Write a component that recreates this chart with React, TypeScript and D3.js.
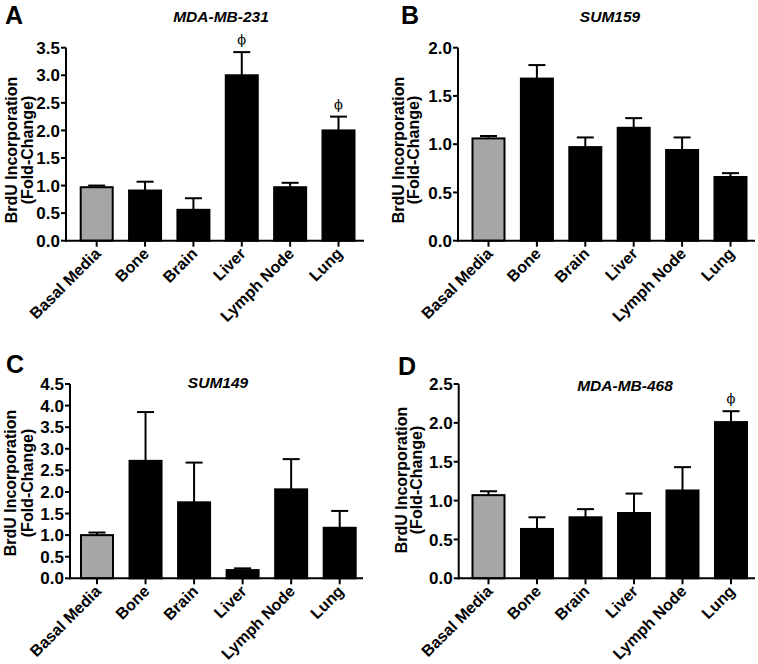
import React from "react";
import * as d3 from "d3";

const categories = ["Basal Media", "Bone", "Brain", "Liver", "Lymph Node", "Lung"];

const valuesA = [0.97, 0.91, 0.56, 3.0, 0.97, 2.0];
const errorsA = [0.03, 0.16, 0.21, 0.42, 0.08, 0.25];
const sigA = [false, false, false, true, false, true];
const ticksA = [0, 0.5, 1.0, 1.5, 2.0, 2.5, 3.0, 3.5];

const valuesB = [1.06, 1.68, 0.97, 1.17, 0.94, 0.66];
const errorsB = [0.025, 0.14, 0.1, 0.1, 0.13, 0.04];
const sigB = [false, false, false, false, false, false];
const ticksB = [0, 0.5, 1.0, 1.5, 2.0];

const valuesC = [1.0, 2.72, 1.76, 0.19, 2.06, 1.17];
const errorsC = [0.06, 1.13, 0.92, 0.04, 0.7, 0.39];
const sigC = [false, false, false, false, false, false];
const ticksC = [0, 0.5, 1.0, 1.5, 2.0, 2.5, 3.0, 3.5, 4.0, 4.5];

const valuesD = [1.07, 0.635, 0.785, 0.84, 1.13, 2.01];
const errorsD = [0.05, 0.15, 0.105, 0.25, 0.3, 0.14];
const sigD = [false, false, false, false, false, true];
const ticksD = [0, 0.5, 1.0, 1.5, 2.0, 2.5];

const titles = ["MDA-MB-231", "SUM159", "SUM149", "MDA-MB-468"];
const letters = ["A", "B", "C", "D"];

const FONT = "'Liberation Sans', Arial, Helvetica, sans-serif";

type PanelLayout = {
  axisX: number; y0: number; yTop: number; firstC: number; lastC: number; xRight: number;
  titleX: number; titleY: number; letterX: number; letterY: number;
  lab1X: number; lab2X: number; labY: number;
};

const layouts: PanelLayout[] = [
  { axisX: 66, y0: 240.7, yTop: 47.7, firstC: 96.7, lastC: 338.5, xRight: 364, titleX: 221, titleY: 22, letterX: 5, letterY: 24, lab1X: 11, lab2X: 27, labY: 150 },
  { axisX: 458, y0: 240.7, yTop: 47.7, firstC: 488.5, lastC: 730.5, xRight: 755, titleX: 610, titleY: 22, letterX: 401, letterY: 24, lab1X: 398, lab2X: 413, labY: 150 },
  { axisX: 70, y0: 578.3, yTop: 384, firstC: 97, lastC: 339.7, xRight: 363, titleX: 218, titleY: 388, letterX: 6, letterY: 373, lab1X: 10, lab2X: 27, labY: 483 },
  { axisX: 458.7, y0: 578.3, yTop: 384, firstC: 488.5, lastC: 731, xRight: 755, titleX: 625, titleY: 391, letterX: 398, letterY: 375, lab1X: 401, lab2X: 416, labY: 480 },
];

const panelData = [
  { values: valuesA, errors: errorsA, sig: sigA, ticks: ticksA },
  { values: valuesB, errors: errorsB, sig: sigB, ticks: ticksB },
  { values: valuesC, errors: errorsC, sig: sigC, ticks: ticksC },
  { values: valuesD, errors: errorsD, sig: sigD, ticks: ticksD },
];

function Panel({ idx }: { idx: number }) {
  const L = layouts[idx];
  const D = panelData[idx];
  const yMax = D.ticks[D.ticks.length - 1];
  const y = d3.scaleLinear().domain([0, yMax]).range([L.y0, L.yTop]);
  const x = d3.scalePoint<string>().domain(categories).range([L.firstC, L.lastC]);
  const barW = 32;
  const capW = 17;
  return (
    <g>
      <text x={L.letterX} y={L.letterY} fontFamily={FONT} fontWeight="bold" fontSize={25}>{letters[idx]}</text>
      <text x={L.titleX} y={L.titleY} textAnchor="middle" fontFamily={FONT} fontWeight="bold" fontStyle="italic" fontSize={15.5}>{titles[idx]}</text>
      <g transform={`translate(${L.lab1X},${L.labY}) rotate(-90)`}>
        <text textAnchor="middle" dominantBaseline="central" fontFamily={FONT} fontWeight="bold" fontSize={16}>BrdU Incorporation</text>
      </g>
      <g transform={`translate(${L.lab2X},${L.labY}) rotate(-90)`}>
        <text textAnchor="middle" dominantBaseline="central" fontFamily={FONT} fontWeight="bold" fontSize={16}>(Fold-Change)</text>
      </g>
      {categories.map((c, i) => {
        const cx = x(c)!;
        const v = D.values[i];
        const top = y(v);
        const et = y(v + D.errors[i]);
        return (
          <g key={c}>
            <line x1={cx} x2={cx} y1={top} y2={et} stroke="#000" strokeWidth={2} />
            <line x1={cx - capW / 2} x2={cx + capW / 2} y1={et} y2={et} stroke="#000" strokeWidth={2} />
            <rect x={cx - barW / 2} y={top} width={barW} height={L.y0 - top} fill={i === 0 ? "#a6a6a6" : "#000"} stroke="#000" strokeWidth={2} />
            {D.sig[i] && (
              <text x={cx} y={et - 8} textAnchor="middle" fontFamily="'DejaVu Serif', 'Liberation Serif', serif" fontSize={13}>ϕ</text>
            )}
          </g>
        );
      })}
      <line x1={L.axisX} x2={L.axisX} y1={L.y0 + 1} y2={L.yTop} stroke="#000" strokeWidth={2} />
      {D.ticks.map((t) => (
        <g key={t}>
          <line x1={L.axisX - 5} x2={L.axisX} y1={y(t)} y2={y(t)} stroke="#000" strokeWidth={2} />
          <text x={L.axisX - 6} y={y(t)} dy="0.36em" textAnchor="end" fontFamily={FONT} fontWeight="bold" fontSize={17}>{t.toFixed(1)}</text>
        </g>
      ))}
      <line x1={L.axisX - 1} x2={L.xRight} y1={L.y0} y2={L.y0} stroke="#000" strokeWidth={2} />
      {categories.map((c) => {
        const cx = x(c)!;
        return (
          <g key={"xt" + c}>
            <line x1={cx} x2={cx} y1={L.y0} y2={L.y0 + 6} stroke="#000" strokeWidth={2} />
            <g transform={`translate(${cx + 5},${L.y0 + 14}) rotate(-45)`}>
              <text textAnchor="end" fontFamily={FONT} fontWeight="bold" fontSize={16}>{c}</text>
            </g>
          </g>
        );
      })}
    </g>
  );
}

export default function App() {
  return (
    <svg width={758} height={664} style={{ position: "absolute", left: 0, top: 0, background: "#fff" }}>
      <rect x={0} y={0} width={758} height={664} fill="#fff" />
      {[0, 1, 2, 3].map((i) => (
        <Panel key={i} idx={i} />
      ))}
    </svg>
  );
}
